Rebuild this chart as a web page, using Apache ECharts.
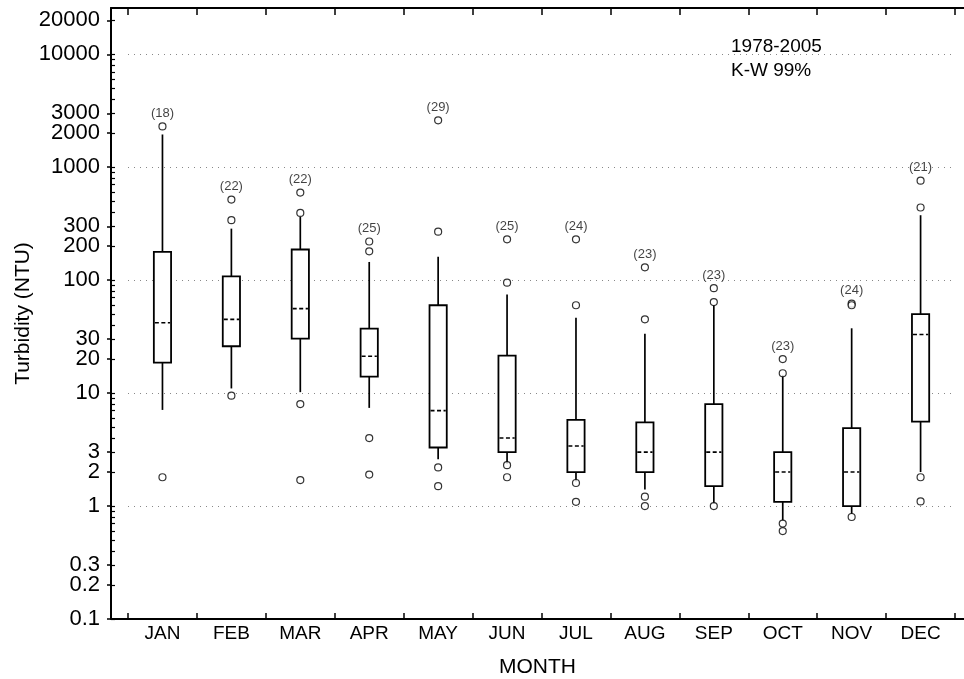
<!DOCTYPE html>
<html>
<head>
<meta charset="utf-8">
<script src="https://cdn.jsdelivr.net/npm/echarts@6/dist/echarts.min.js"></script>
<style>
html,body{margin:0;padding:0;background:#fff;}
#chart{width:964px;height:679px;}
</style>
</head>
<body>
<div id="chart"></div>
<script>
const months = ['JAN','FEB','MAR','APR','MAY','JUN','JUL','AUG','SEP','OCT','NOV','DEC'];
const whiskerLow  = [7.1, 11, 10.2, 7.4, 2.6, 2.37, 1.65, 1.4, 1.05, 0.74, 0.85, 2.0];
const q1          = [18.6, 26, 30.4, 14, 3.3, 3.0, 2.0, 2.0, 1.5, 1.09, 1.0, 5.6];
const medians     = [42, 45, 56, 21.2, 7.0, 4.0, 3.4, 3.0, 3.0, 2.0, 2.0, 33];
const q3          = [178, 108, 187, 37.3, 60, 21.5, 5.8, 5.5, 8.0, 3.0, 4.9, 50];
const whiskerHigh = [1950, 286, 363, 145, 161, 74.5, 46.6, 33.6, 60, 14.5, 37.5, 376];
const outliers = [
  [2300, 1.8],
  [517, 340, 9.5],
  [597, 394, 8.0, 1.7],
  [220, 180, 4.0, 1.9],
  [2600, 269, 2.2, 1.5],
  [230, 95, 2.3, 1.8],
  [230, 60, 1.6, 1.09],
  [130, 45, 1.21, 1.0],
  [85, 64, 1.0],
  [20, 15, 0.70, 0.60],
  [62, 60, 0.80],
  [760, 440, 1.8, 1.1]
];
const counts = [18, 22, 22, 25, 29, 25, 24, 23, 23, 23, 24, 21];
const yLabelValues = [0.1, 0.2, 0.3, 1, 2, 3, 10, 20, 30, 100, 200, 300, 1000, 2000, 3000, 10000, 20000];
const gridValues = [1, 10, 100, 1000, 10000];
const noteText = '1978-2005\nK-W 99%';

const FONT = 'Liberation Sans, Arial, Helvetica, sans-serif';
const Y_MIN = 0.1, Y_MAX = 25700;
const X_MIN = -0.7467, X_MAX = 11.63;

const minorValues = [];
[0.1, 1, 10, 100, 1000, 10000].forEach(d => {
  for (let k = 1; k <= 9; k++) {
    const v = Number((k * d).toPrecision(3));
    if (v <= Y_MAX) minorValues.push(v);
  }
});
const boundaries = [];
for (let i = 0; i <= months.length; i++) boundaries.push(i - 0.5);
const centers = months.map((m, i) => i);

const boxData = months.map((m, i) => [i, whiskerLow[i], q1[i], medians[i], q3[i], whiskerHigh[i]]);
const outlierData = [];
outliers.forEach((arr, i) => arr.forEach(v => outlierData.push([i, v])));
const countData = months.map((m, i) => [i, Math.max(...outliers[i]), counts[i]]);

const chart = echarts.init(document.getElementById('chart'), null, {renderer: 'canvas'});
const option = {
  animation: false,
  backgroundColor: '#fff',
  textStyle: {fontFamily: FONT},
  title: {
    text: noteText,
    left: 731, top: 35, padding: 0,
    textStyle: {fontSize: 19, fontWeight: 'normal', color: '#000', lineHeight: 24, fontFamily: FONT}
  },
  grid: {left: 111, right: 0, top: 8, bottom: 60, containLabel: false, outerBoundsMode: 'none'},
  xAxis: [
    {
      type: 'value', min: X_MIN, max: X_MAX, position: 'bottom',
      name: 'MONTH', nameLocation: 'middle', nameGap: 38, nameMoveOverlap: false,
      nameTextStyle: {fontSize: 21, color: '#000', fontFamily: FONT},
      axisLine: {show: true, onZero: false, lineStyle: {color: '#000', width: 2}},
      axisTick: {show: true, inside: true, length: 6, customValues: boundaries, lineStyle: {color: '#000', width: 1.5}},
      axisLabel: {show: true, customValues: centers, margin: 5, fontSize: 19, color: '#000', fontFamily: FONT,
        formatter: v => months[Math.round(v)] || ''},
      splitLine: {show: false}
    },
    {
      type: 'value', min: X_MIN, max: X_MAX, position: 'top',
      axisLine: {show: true, onZero: false, lineStyle: {color: '#000', width: 2}},
      axisTick: {show: true, inside: true, length: 7, customValues: boundaries, lineStyle: {color: '#000', width: 1.5}},
      axisLabel: {show: false},
      splitLine: {show: false}
    }
  ],
  yAxis: [
    {
      type: 'log', logBase: 10, min: Y_MIN, max: Y_MAX, position: 'left',
      name: 'Turbidity (NTU)', nameLocation: 'middle', nameGap: 77, nameMoveOverlap: false,
      nameTextStyle: {fontSize: 21, color: '#000', fontFamily: FONT},
      axisLine: {show: true, onZero: false, lineStyle: {color: '#000', width: 2}},
      axisTick: {show: true, inside: false, length: 4, customValues: yLabelValues, lineStyle: {color: '#000', width: 1.5}},
      axisLabel: {show: true, customValues: yLabelValues, margin: 11, fontSize: 22, color: '#000', fontFamily: FONT,
        formatter: v => String(Number(Number(v).toPrecision(3)))},
      splitLine: {show: false}
    },
    {
      type: 'log', logBase: 10, min: Y_MIN, max: Y_MAX, position: 'left', offset: 0,
      axisLine: {show: false, onZero: false},
      axisTick: {show: true, inside: true, length: 4, customValues: minorValues, lineStyle: {color: '#000', width: 1.2}},
      axisLabel: {show: false},
      splitLine: {show: false}
    }
  ],
  series: [
    {
      type: 'scatter', name: 'grid', xAxisIndex: 0, yAxisIndex: 0, data: [], z: 1, silent: true,
      markLine: {
        silent: true, z: 1, symbol: ['none', 'none'], animation: false,
        label: {show: false},
        lineStyle: {color: '#888', width: 1, type: [1, 5]},
        emphasis: {disabled: true},
        data: gridValues.map(v => [{coord: [-0.5, v]}, {coord: [11.5, v]}])
      }
    },
    {
      type: 'custom', name: 'box', xAxisIndex: 0, yAxisIndex: 0, z: 3, silent: true,
      data: boxData,
      encode: {x: 0, y: [1, 2, 3, 4, 5]},
      renderItem: function (params, api) {
        const x = api.value(0);
        const pWL = api.coord([x, api.value(1)]);
        const pQ1 = api.coord([x, api.value(2)]);
        const pMed = api.coord([x, api.value(3)]);
        const pQ3 = api.coord([x, api.value(4)]);
        const pWH = api.coord([x, api.value(5)]);
        const left = api.coord([x - 0.125, api.value(3)])[0];
        const right = api.coord([x + 0.125, api.value(3)])[0];
        const cx = pMed[0];
        const st = {stroke: '#000', lineWidth: 1.7, fill: null};
        return {
          type: 'group',
          children: [
            {type: 'line', shape: {x1: cx, y1: pWL[1], x2: cx, y2: pQ1[1]}, style: st},
            {type: 'line', shape: {x1: cx, y1: pQ3[1], x2: cx, y2: pWH[1]}, style: st},
            {type: 'rect', shape: {x: left, y: pQ3[1], width: right - left, height: pQ1[1] - pQ3[1]},
              style: {stroke: '#000', lineWidth: 1.8, fill: '#fff'}},
            {type: 'line', shape: {x1: left + 1, y1: pMed[1], x2: right - 1, y2: pMed[1]},
              style: {stroke: '#000', lineWidth: 1.6, lineDash: [4, 2.5]}}
          ]
        };
      }
    },
    {
      type: 'scatter', name: 'outliers', xAxisIndex: 0, yAxisIndex: 0, z: 4, silent: true,
      data: outlierData,
      symbol: 'circle', symbolSize: 7,
      itemStyle: {color: '#fff', borderColor: '#000', borderWidth: 1.2}
    },
    {
      type: 'scatter', name: 'counts', xAxisIndex: 0, yAxisIndex: 0, z: 5, silent: true,
      data: countData,
      symbol: 'circle', symbolSize: 7,
      itemStyle: {color: 'rgba(0,0,0,0)', borderWidth: 0},
      label: {show: true, position: 'top', distance: 3, fontSize: 13, color: '#111', fontFamily: FONT,
        formatter: p => '(' + p.data[2] + ')'}
    }
  ]
};
chart.setOption(option);
</script>
</body>
</html>
